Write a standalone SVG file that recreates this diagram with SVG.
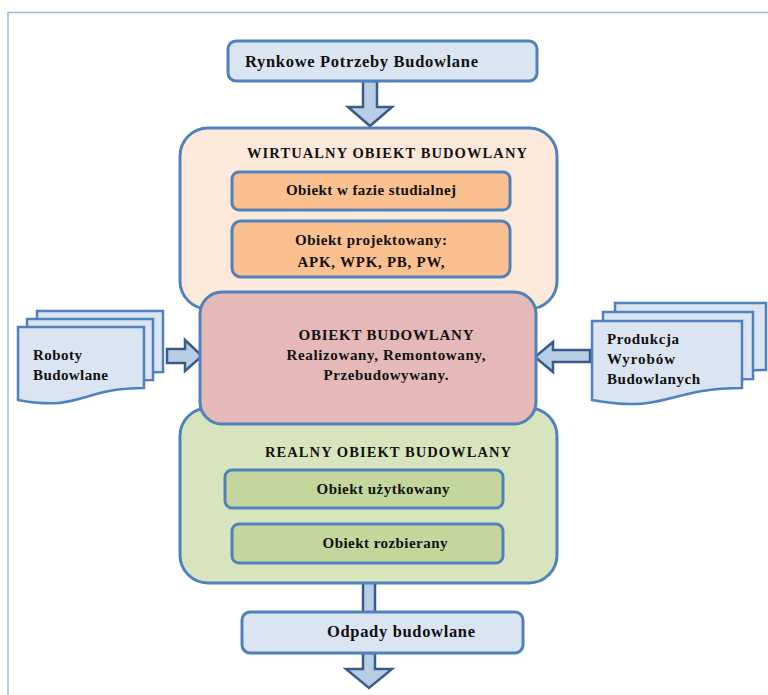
<svg xmlns="http://www.w3.org/2000/svg" width="768" height="695" viewBox="0 0 768 695">
  <style>
    .frame { fill: none; stroke: #9db6e6; stroke-width: 1.5; }
    .box { stroke: #4f81bd; stroke-width: 3; }
    .blue { fill: #dbe5f1; }
    .peach { fill: #fde9d9; }
    .orange { fill: #fac090; }
    .pink { fill: #e6b9b8; }
    .green { fill: #d7e4bd; }
    .olive { fill: #c3d69b; }
    .doc { fill: #dbe5f1; stroke: #4f81bd; stroke-width: 2.5; }
    .arrow { fill: #b9cde5; stroke: #385d8a; stroke-width: 2.5; stroke-linejoin: miter; }
    text { font-family: "Liberation Serif", "Times New Roman", serif; font-weight: bold; fill: #111; }
    .t16 { font-size: 16.5px; }
    .t15 { font-size: 15px; }
    .t14 { font-size: 14.5px; }
    .mid { text-anchor: middle; }
  </style>

  <!-- page frame -->
  <path class="frame" d="M8,695 V12.5 H768"/>

  <!-- arrows between the blocks -->
  <g id="connectors">
    <polygon class="arrow" points="363,81 377,81 377,107 392,107 370,126 348,107 363,107"/>
    <rect class="arrow" x="363" y="582" width="12" height="31"/>
    <polygon class="arrow" points="363,653 375,653 375,669 392,669 369,688 346,669 363,669"/>
    <polygon class="arrow" points="167,349 185,349 185,340 202,356 185,371 185,363 167,363"/>
    <polygon class="arrow" points="590,350 553,350 553,342 535,357 553,372 553,362 590,362"/>
  </g>

  <g id="rynkowe-potrzeby">
    <rect class="box blue" x="228" y="41" width="309" height="40" rx="8"/>
    <text class="t16" x="245" y="67" textLength="233" lengthAdjust="spacing">Rynkowe Potrzeby Budowlane</text>
  </g>

  <g id="wirtualny-obiekt">
    <rect class="box peach" x="180" y="128" width="377" height="181" rx="28"/>
    <text class="t14 mid" x="387" y="158" textLength="280" lengthAdjust="spacing">WIRTUALNY OBIEKT BUDOWLANY</text>
  </g>

  <g id="obiekt-studialny">
    <rect class="box orange" x="232" y="172" width="278" height="38" rx="7"/>
    <text class="t15 mid" x="371" y="195" textLength="170" lengthAdjust="spacing">Obiekt w fazie studialnej</text>
  </g>

  <g id="obiekt-projektowany">
    <rect class="box orange" x="232" y="221" width="278" height="56" rx="9"/>
    <text class="t15 mid" x="371" y="245" textLength="152" lengthAdjust="spacing">Obiekt projektowany:</text>
    <text class="t15 mid" x="371" y="267" textLength="147" lengthAdjust="spacing">APK, WPK, PB, PW,</text>
  </g>

  <g id="realny-obiekt">
    <rect class="box green" x="180" y="408" width="377" height="175" rx="28"/>
    <text class="t14 mid" x="388" y="457" textLength="246" lengthAdjust="spacing">REALNY OBIEKT BUDOWLANY</text>
  </g>

  <g id="obiekt-uzytkowany">
    <rect class="box olive" x="225" y="470" width="278" height="38" rx="7"/>
    <text class="t15 mid" x="383" y="494" textLength="133" lengthAdjust="spacing">Obiekt użytkowany</text>
  </g>

  <g id="obiekt-rozbierany">
    <rect class="box olive" x="232" y="524" width="271" height="39" rx="7"/>
    <text class="t15 mid" x="385" y="548" textLength="125" lengthAdjust="spacing">Obiekt rozbierany</text>
  </g>

  <g id="obiekt-budowlany">
    <rect class="box pink" x="200" y="292" width="336" height="132" rx="22"/>
    <text class="t15 mid" x="386" y="340" textLength="175" lengthAdjust="spacing">OBIEKT BUDOWLANY</text>
    <text class="t15 mid" x="386" y="360" textLength="199" lengthAdjust="spacing">Realizowany, Remontowany,</text>
    <text class="t15 mid" x="386" y="380" textLength="125" lengthAdjust="spacing">Przebudowywany.</text>
  </g>

  <g id="odpady-budowlane">
    <rect class="box blue" x="242" y="612" width="281" height="41" rx="8"/>
    <text class="t16 mid" x="401" y="637" textLength="148" lengthAdjust="spacing">Odpady budowlane</text>
  </g>

  <!-- stacked document shapes -->
  <g id="roboty-budowlane">
    <path class="doc" d="M37,311 H163 V372 C100,372 100,395 37,383 Z"/>
    <path class="doc" d="M27,319 H153 V380 C90,380 90,403 27,391 Z"/>
    <path class="doc" d="M18,327 H144 V388 C81,388 81,412 18,400 Z"/>
    <text class="t15" x="33" y="360" textLength="49" lengthAdjust="spacing">Roboty</text>
    <text class="t15" x="33" y="380" textLength="75" lengthAdjust="spacing">Budowlane</text>
  </g>

  <g id="produkcja-wyrobow">
    <path class="doc" d="M615,303 H766 V370 C690,370 690,396 615,382 Z"/>
    <path class="doc" d="M603,312 H753 V379 C678,379 678,405 603,391 Z"/>
    <path class="doc" d="M592,321 H742 V388 C667,388 667,414 592,400 Z"/>
    <text class="t15" x="607" y="344" textLength="72" lengthAdjust="spacing">Produkcja</text>
    <text class="t15" x="607" y="364" textLength="68" lengthAdjust="spacing">Wyrobów</text>
    <text class="t15" x="607" y="384" textLength="93" lengthAdjust="spacing">Budowlanych</text>
  </g>
</svg>
